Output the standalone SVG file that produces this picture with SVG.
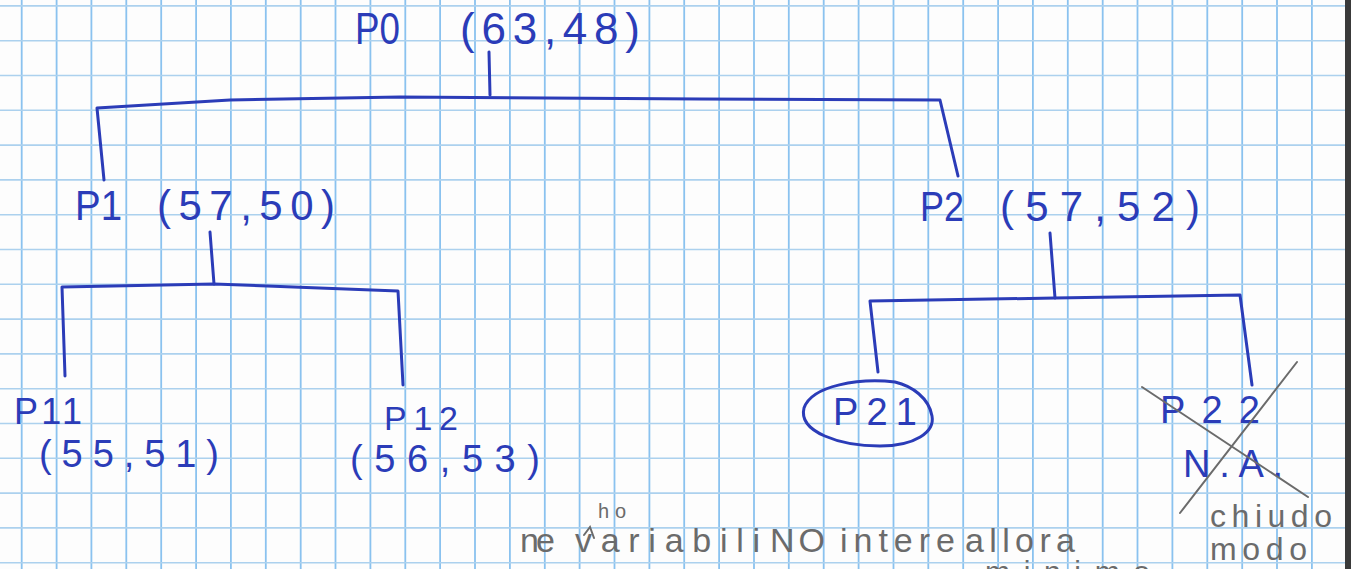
<svg xmlns="http://www.w3.org/2000/svg" width="1351" height="569" viewBox="0 0 1351 569">
<defs>
<style>
.ink{fill:#2b3cb8;font-family:"Liberation Sans",Arial,sans-serif;}
.pen{fill:#6b6b6b;font-family:"Liberation Sans",Arial,sans-serif;}
.link{stroke:#2b3cb8;stroke-width:3;fill:none;stroke-linecap:round;stroke-linejoin:round;}
.pencil{stroke:#6b6b6b;stroke-width:2;fill:none;stroke-linecap:round;}
.vgrid{stroke:#8ac2ef;stroke-width:1.8;fill:none;}
.hgrid{stroke:#acd1ee;stroke-width:1.6;fill:none;}
</style>
</defs>
<rect width="1351" height="569" fill="#fdfdfd"/>
<g id="grid">
<path class="vgrid" d="M21.7 0V569M56.6 0V569M91.4 0V569M126.3 0V569M161.2 0V569M196.1 0V569M230.9 0V569M265.8 0V569M300.7 0V569M335.5 0V569M370.4 0V569M405.3 0V569M440.1 0V569M475 0V569M509.9 0V569M544.8 0V569M579.6 0V569M614.5 0V569M649.4 0V569M684.2 0V569M719.1 0V569M754 0V569M788.8 0V569M823.7 0V569M858.6 0V569M893.5 0V569M928.3 0V569M963.2 0V569M998.1 0V569M1032.9 0V569M1067.8 0V569M1102.7 0V569M1137.5 0V569M1172.4 0V569M1207.3 0V569M1242.2 0V569M1277 0V569M1311.9 0V569"/>
<path class="hgrid" d="M0 5.9H1345M0 40.7H1345M0 75.5H1345M0 110.3H1345M0 145.1H1345M0 179.9H1345M0 214.7H1345M0 249.5H1345M0 284.3H1345M0 319.1H1345M0 353.9H1345M0 388.7H1345M0 423.5H1345M0 458.3H1345M0 493.1H1345M0 527.9H1345M0 562.7H1345"/>
</g>
<rect x="1345" y="0" width="6" height="569" fill="#3a3a3a"/>

<g id="connectors">
<path class="link" d="M489 52 L490 95"/>
<path class="link" d="M104 180 L97 108 L230 100 L400 97 L700 99 L940 100 L958 176"/>
<path class="link" d="M210 232 L214 284"/>
<path class="link" d="M65 376 L62 287 L214 284 L398 291 L403 385"/>
<path class="link" d="M1050 233 L1055 298"/>
<path class="link" d="M878 372 L870 301 L1055 298 L1240 295 L1252 385"/>
</g>

<g id="P0">
<text class="ink" y="44" font-size="44"><tspan x="355" textLength="45" lengthAdjust="spacingAndGlyphs">P0</tspan><tspan x="460" textLength="180" lengthAdjust="spacing">(63,48)</tspan></text>
</g>

<g id="P1">
<text class="ink" y="220" font-size="42"><tspan x="75" textLength="47" lengthAdjust="spacingAndGlyphs">P1</tspan><tspan x="157" textLength="178" lengthAdjust="spacing">(57,50)</tspan></text>
</g>

<g id="P2">
<text class="ink" y="221" font-size="42"><tspan x="920" textLength="44" lengthAdjust="spacingAndGlyphs">P2</tspan><tspan x="1000" textLength="200" lengthAdjust="spacing">(57,52)</tspan></text>
</g>

<g id="P11">
<text class="ink" x="14" y="424" font-size="36" textLength="68" lengthAdjust="spacing">P11</text>
<text class="ink" x="39" y="467" font-size="38" textLength="180" lengthAdjust="spacing">(55,51)</text>
</g>

<g id="P12">
<text class="ink" x="384" y="430" font-size="34" textLength="74" lengthAdjust="spacing">P12</text>
<text class="ink" x="350" y="472" font-size="38" textLength="190" lengthAdjust="spacing">(56,53)</text>
</g>

<g id="P21">
<path d="M895 382 C860 378 812 385 804 408 C798 432 840 446 880 446 C915 446 935 432 932 416 C929 398 912 386 895 382 Z" stroke="#2b3cb8" stroke-width="3" fill="none"/>
<text class="ink" x="833" y="425" font-size="38" textLength="84" lengthAdjust="spacing">P21</text>
</g>

<g id="P22">
<text class="ink" font-size="38"><tspan x="1160" y="423" textLength="100" lengthAdjust="spacing">P22</tspan><tspan x="1183" y="477" textLength="100" lengthAdjust="spacing">N.A.</tspan></text>
<path class="pencil" d="M1142 387 L1308 497"/>
<path class="pencil" d="M1297 362 L1180 513"/>
<text class="pen" font-size="32"><tspan x="1210" y="527" textLength="122" lengthAdjust="spacing">chiudo</tspan><tspan x="1210" y="560" textLength="97" lengthAdjust="spacing">modo</tspan></text>
</g>

<g id="note">
<text class="pen" font-size="34" y="552"><tspan x="520" textLength="35" lengthAdjust="spacing">ne</tspan><tspan x="598" y="518" font-size="20" textLength="28" lengthAdjust="spacing">ho</tspan><tspan x="575" y="552" textLength="185" lengthAdjust="spacing">variabili</tspan><tspan x="770" textLength="55" lengthAdjust="spacing">NO</tspan><tspan x="840" textLength="115" lengthAdjust="spacing">intere</tspan><tspan x="965" textLength="110" lengthAdjust="spacing">allora</tspan></text>
<path class="pencil" d="M584 535 L590 527 L594 538"/>
<text class="pen" x="985" y="582" font-size="30" textLength="165" lengthAdjust="spacing">minimo</text>
</g>
</svg>
